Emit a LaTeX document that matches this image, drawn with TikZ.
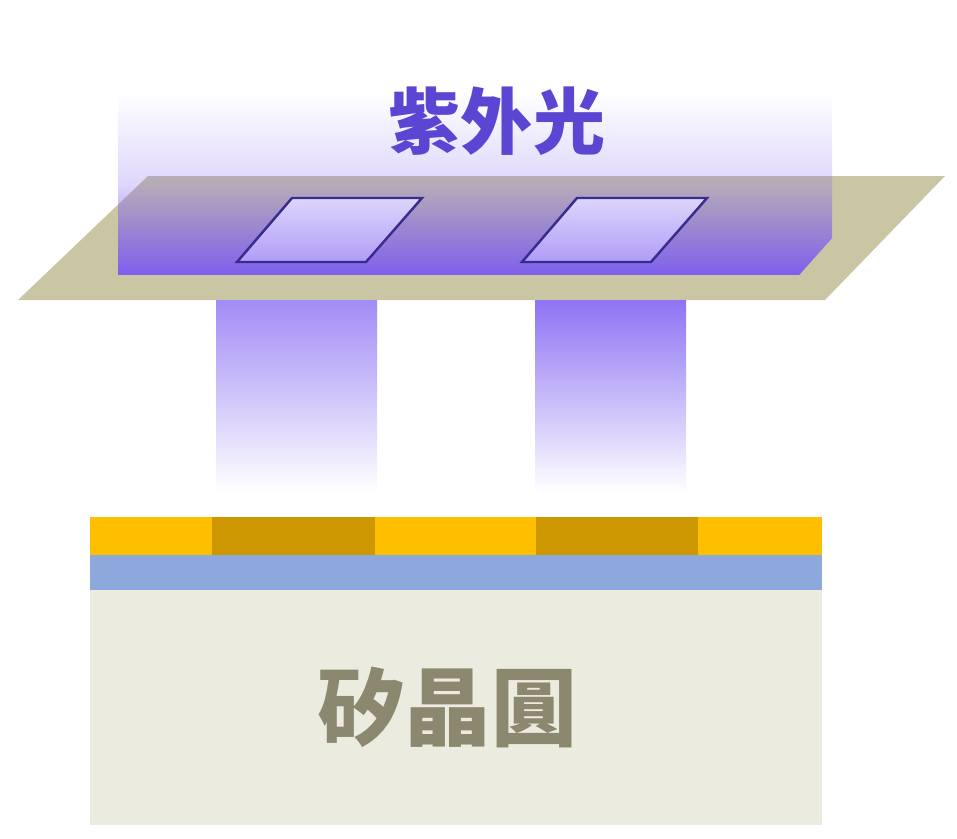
\documentclass[tikz,border=0pt]{standalone}
\usepackage{fontspec}
\newfontfamily\cjk{Noto Sans CJK TC}
\usetikzlibrary{fadings}

\definecolor{uvpurple}{HTML}{7A5AF2}
\definecolor{uvtext}{HTML}{5A46D2}
\definecolor{maskgray}{HTML}{CAC6A4}
\definecolor{slotline}{HTML}{3A2C8E}
\definecolor{resistlight}{HTML}{FDBF00}
\definecolor{resistdark}{HTML}{CC9700}
\definecolor{oxideblue}{HTML}{8CA8DC}
\definecolor{wafergray}{HTML}{EBEBE0}
\definecolor{wafertext}{HTML}{8C8870}

% light fades out quickly above the mask (middle color must come last)
\tikzfading[name=uvfade,top color=transparent!100,bottom color=transparent!5,middle color=transparent!76]

\tikzset{
  slot/.style={draw=slotline,line width=0.7pt,top color=#1!25,bottom color=#1!60},
  beam/.style={top color=#1,bottom color=white},
}

\begin{document}
\begin{tikzpicture}[x=0.01cm,y=-0.01cm]
  \useasboundingbox (0,0) rectangle (957,838);
  % mask plate
  \fill[maskgray] (148,176) -- (945,176) -- (825,300) -- (18,300) -- cycle;
  % light coming down onto the mask
  \fill[uvpurple,path fading=uvfade] (118,92) -- (832,92) -- (832,238) -- (799,275) -- (118,275) -- cycle;
  % openings in the mask
  \foreach \x in {0,285}
    \path[slot=uvpurple] (292+\x,198) -- (422+\x,198) -- (366+\x,262) -- (237+\x,262) -- cycle;
  \node[text=uvtext,font=\cjk\bfseries\fontsize{20.5}{20.5}\selectfont] (uv) at (497,121) {紫外光};

  % light passing through the openings
  \shade[beam=uvpurple!70] (216,300) rectangle (377,492);
  \shade[beam=uvpurple!85] (535,300) rectangle (686,492);

  % wafer stack
  \fill[wafergray] (90,590) rectangle (822,825);
  \fill[oxideblue] (90,555) rectangle (822,590);
  \fill[resistlight] (90,517) rectangle (822,555);
  \foreach \a/\b in {212/375,536/698}
    \fill[resistdark] (\a,517) rectangle (\b,555);
  \node[text=wafertext,font=\cjk\bfseries\fontsize{24.5}{24.5}\selectfont] (wafer) at (448,707) {矽晶圓};
\end{tikzpicture}
\end{document}
